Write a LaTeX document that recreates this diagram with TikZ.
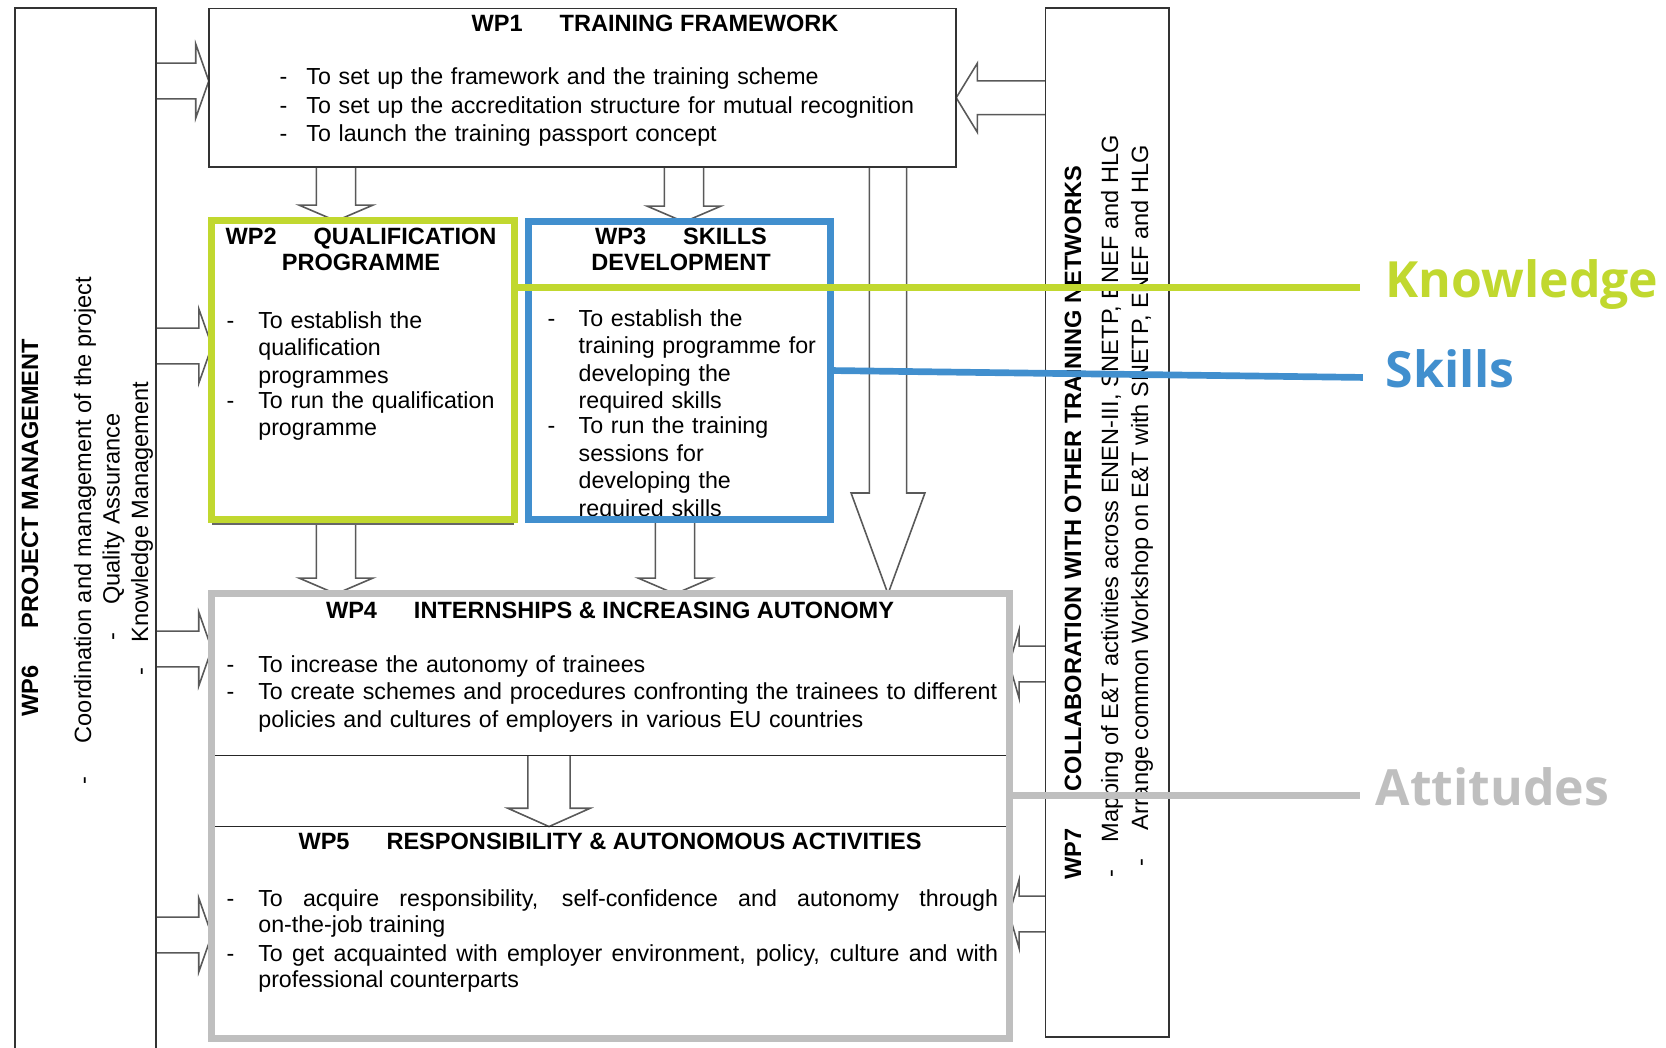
\documentclass[tikz,border=0pt]{standalone}
\usepackage{fontspec}
\setmainfont{Liberation Sans}
\newfontfamily\lblfont{Open Sans}
\usetikzlibrary{calc}
\definecolor{wpgreen}{RGB}{193,216,47}
\definecolor{wpblue}{RGB}{65,143,206}
\definecolor{wpgray}{RGB}{191,191,191}
\pgfdeclarelayer{bg}
\pgfsetlayers{bg,main}

\newcommand{\wpgap}{\hspace{10.5pt}}
\newcommand{\dashitem}[2][9pt]{\noindent\makebox[#1][l]{-}\parbox[t]{\dimexpr\linewidth-#1\relax}{#2}\par}

% #1 from, #2 tip, #3 level, #4 shaft half, #5 head half, #6 head length
\newcommand{\blockR}[6]{\draw[blockarrow] let \p1=(#1), \p2=(#2), \p3=(0,#3) in
  (\x1,\y3+#4) -- (\x2-#6,\y3+#4) -- (\x2-#6,\y3+#5) -- (\x2,\y3)
  -- (\x2-#6,\y3-#5) -- (\x2-#6,\y3-#4) -- (\x1,\y3-#4);}
\newcommand{\blockL}[6]{\draw[blockarrow] let \p1=(#1), \p2=(#2), \p3=(0,#3) in
  (\x1,\y3+#4) -- (\x2+#6,\y3+#4) -- (\x2+#6,\y3+#5) -- (\x2,\y3)
  -- (\x2+#6,\y3-#5) -- (\x2+#6,\y3-#4) -- (\x1,\y3-#4);}
\newcommand{\blockD}[6]{\draw[blockarrow] let \p1=(#1), \p2=(#2), \p3=(#3,0) in
  (\x3-#4,\y1) -- (\x3-#4,\y2+#6) -- (\x3-#5,\y2+#6) -- (\x3,\y2)
  -- (\x3+#5,\y2+#6) -- (\x3+#4,\y2+#6) -- (\x3+#4,\y1);}

\tikzset{
  wpbox/.style={draw=black!80, line width=0.5pt, inner sep=0, outer sep=0},
  region/.style={inner sep=0, outer sep=0, minimum width=7.97cm},
  wpline/.style={draw=black!85, line width=0.5pt},
  blockarrow/.style={draw=black!65, line width=0.45pt, line join=miter},
  title/.style={anchor=base west, inner sep=0, font=\fontsize{6.7}{7.55}\selectfont\bfseries},
  txt/.style={anchor=base west, inner sep=0, align=left},
  vtitle/.style={rotate=90, anchor=base west, inner sep=0, font=\fontsize{6.7}{7.55}\selectfont\bfseries},
  vtxt/.style={rotate=90, anchor=base west, inner sep=0, font=\fontsize{6.7}{7.85}\selectfont},
  lbl/.style={anchor=base west, inner sep=0, font=\lblfont\bfseries\fontsize{14.2}{16}\selectfont},
  leader/.style={line width=1.9pt}
}

\begin{document}
\begin{tikzpicture}[x=0.01cm, y=-0.01cm, font=\fontsize{6.6}{7.85}\selectfont]
\useasboundingbox (0,0) rectangle (1666,1047);

\node[wpbox, minimum width=1.41cm, minimum height=10.6cm] (wp6) at (85.5,538.5) {};
\node[wpbox, minimum width=7.47cm, minimum height=1.585cm] (wp1) at (582.5,87.75) {};
\node[wpbox, minimum width=1.235cm, minimum height=10.285cm] (wp7) at (1107.25,522.75) {};
\node[wpbox, draw=wpgreen, line width=2pt, minimum width=3.02cm, minimum height=2.98cm] (wp2) at (363,370) {};
\node[wpbox, draw=wpblue, line width=2pt, minimum width=3.01cm, minimum height=2.97cm] (wp3) at (679.5,370.5) {};
\draw[black!60, line width=0.5pt] ([yshift=-1.4pt]wp2.south west) -- ([yshift=-1.4pt]wp2.south east);

\node[region, minimum height=1.615cm] (wp4) at (610.5,674.75) {};
\node[region, minimum height=2.114cm] (wp5) at (610.5,932.3) {};
\draw[wpline] (wp4.south west) -- (wp4.south east);
\draw[wpline] (wp5.north west) -- (wp5.north east);
\node[wpbox, draw=wpgray, line width=2pt, minimum width=7.97cm, minimum height=4.44cm] (frame) at (610.5,816) {};

\begin{pgfonlayer}{bg}
\foreach \lev/\tgt in {81/wp1, 346/wp2, 649/frame, 935/frame}{
	\blockR{wp6.east}{\tgt.west}{\lev}{5.1pt}{10.5pt}{3.7pt}
}
\blockL{wp7.west}{wp1.east}{97.75}{4.8pt}{9.8pt}{6pt}
\foreach \lev in {664, 914}{
	\blockL{wp7.west}{frame.east}{\lev}{5.1pt}{9.7pt}{2.8pt}
}
\foreach \col/\src/\tgt in {336/wp1/wp2, 684/wp1/wp3, 336/wp2/frame, 675/wp3/frame}{
	\blockD{\src.south}{\tgt.north}{\col}{5.6pt}{10.5pt}{4.5pt}
}
\blockD{wp1.south}{frame.north}{888}{5.3pt}{10.5pt}{28.7pt}
\blockD{wp4.south}{wp5.north}{549}{6pt}{11.7pt}{5.2pt}
\end{pgfonlayer}

\node[title] (wp1title) at (471,31) {WP1\wpgap TRAINING FRAMEWORK};
\node[txt, text width=6.6cm, font=\fontsize{6.6}{8.17}\selectfont] (wp1text) at (279,84.5) {%
\dashitem[7.6pt]{To set up the framework and the training scheme}%
\dashitem[7.6pt]{To set up the accreditation structure for mutual recognition}%
\dashitem[7.6pt]{To launch the training passport concept}};

\node[title, anchor=base, text width=2.9cm, align=center] (wp2title) at (361,244) {WP2\wpgap QUALIFICATION\\PROGRAMME};
\node[txt, text width=3cm] (wp2text) at (226,328) {%
\dashitem{To establish the\\qualification\\programmes}%
\dashitem{To run the qualification\\programme}};

\node[title, anchor=base, text width=2.9cm, align=center] (wp3title) at (681,244) {WP3\wpgap SKILLS\\DEVELOPMENT};
\begin{scope}
\clip ([xshift=1pt, yshift=1pt]wp3.south west) rectangle ([xshift=-1pt, yshift=-1pt]wp3.north east);
\node[txt, text width=2.9cm, font=\fontsize{6.6}{7.82}\selectfont] (wp3text) at (547,326) {%
\dashitem[8.8pt]{To establish the\\training programme for\\developing the\\required skills}%
\dashitem[8.8pt]{To run the training\\sessions for\\developing the\\required skills}};
\end{scope}

\node[title, anchor=base] (wp4title) at (610,618) {WP4\wpgap INTERNSHIPS \& INCREASING AUTONOMY};
\node[txt, text width=7.9cm] (wp4text) at (226,672) {%
\dashitem{To increase the autonomy of trainees}%
\dashitem{To create schemes and procedures confronting the trainees to different\\policies and cultures of employers in various EU countries}};

\node[title, anchor=base] (wp5title) at (610,849.5) {WP5\wpgap RESPONSIBILITY \& AUTONOMOUS ACTIVITIES};
\node[txt, text width=7.71cm, align=justify, font=\fontsize{6.6}{7.55}\selectfont] (wp5text) at (226,906) {%
\setlength{\parskip}{1pt}%
\dashitem{To acquire responsibility, self-confidence and autonomy through\linebreak on-the-job training}%
\dashitem{To get acquainted with employer environment, policy, culture and with\linebreak professional counterparts}};

\node[vtitle] (wp6title) at (38,717) {WP6\wpgap PROJECT MANAGEMENT};
\node[vtxt] (wp6a) at (91,785) {\makebox[11.7pt][l]{-}Coordination and management of the project};
\node[vtxt] (wp6b) at (119.5,641.4) {\makebox[10.2pt][l]{-}Quality Assurance};
\node[vtxt] (wp6c) at (148,676.5) {\makebox[9.5pt][l]{-}Knowledge Management};

\node[vtitle] (wp7title) at (1081,880) {WP7\wpgap COLLABORATION WITH OTHER TRAINING NETWORKS};
\node[vtxt] (wp7a) at (1118,878) {\makebox[10pt][l]{-}Mapping of E\&T activities across ENEN-III, SNETP, ENEF and HLG};
\node[vtxt] (wp7b) at (1148,867) {\makebox[10.2pt][l]{-}Arrange common Workshop on E\&T with SNETP, ENEF and HLG};

\node[lbl, text=wpgreen] (kn) at (1385,297) {Knowledge};
\node[lbl, text=wpblue] (sk) at (1385,387) {Skills};
\node[lbl, text=wpgray] (att) at (1375,805) {Attitudes};

\draw[leader, wpgreen, shorten >=7.1pt] (wp2.east |- kn.mid) -- (kn.mid west);
\draw[leader, wpblue, shorten >=6.3pt] (wp3.east) -- (sk.mid west);
\draw[leader, wpgray, shorten >=4.3pt] (frame.east |- att.mid) -- (att.mid west);
\end{tikzpicture}
\end{document}
